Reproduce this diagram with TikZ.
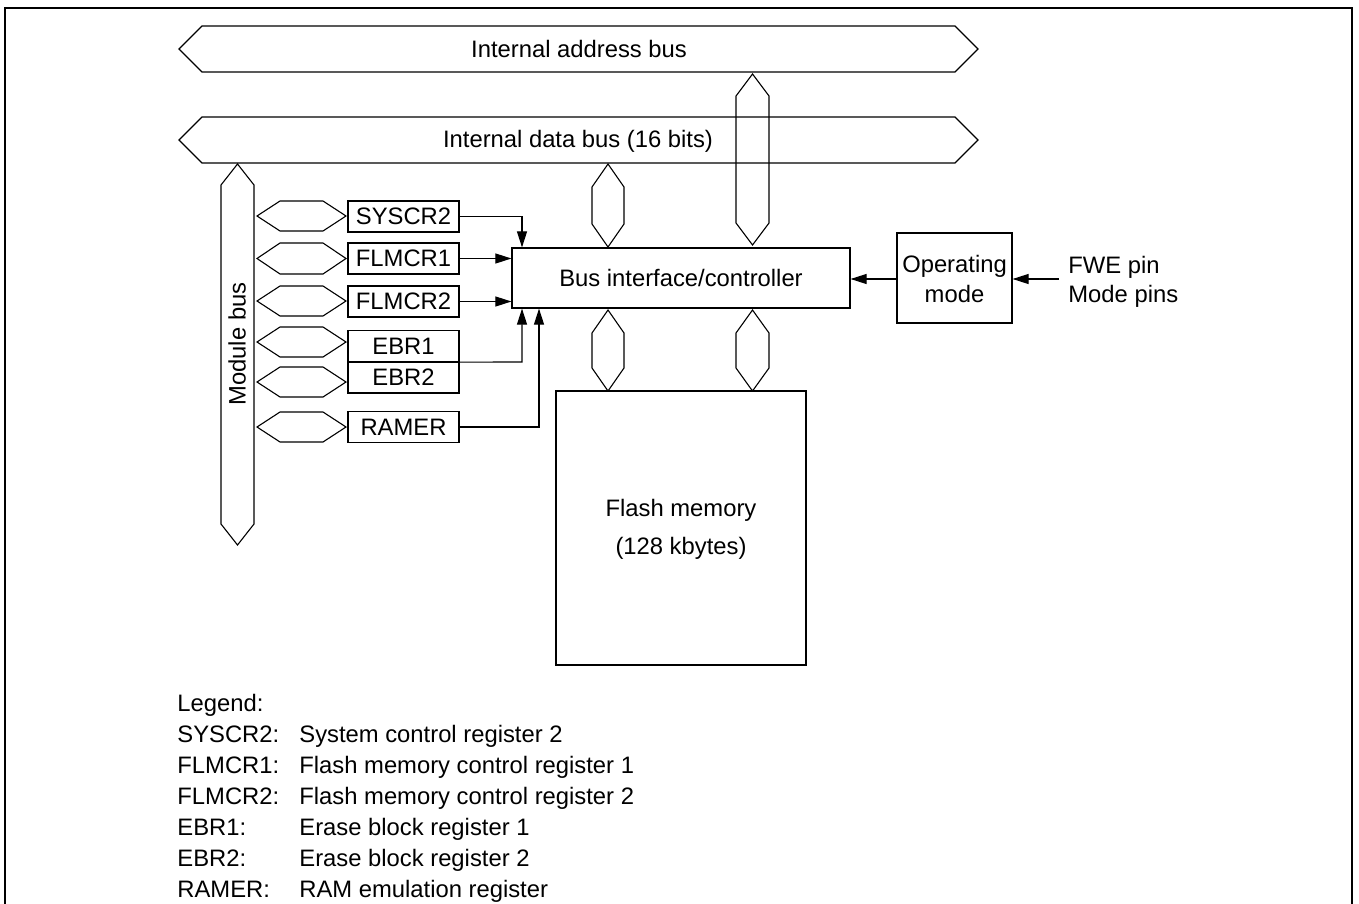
\documentclass[tikz,border=0pt]{standalone}
\usepackage{fontspec}
\setmainfont{Liberation Sans}
\usetikzlibrary{arrows.meta}
\newcommand{\hbusshape}[5]{% x1 x2 y1 y2 d
  \draw[buse] (#1,{(#3+#4)/2}) -- (#1+#5,#3) -- (#2-#5,#3) -- (#2,{(#3+#4)/2}) -- (#2-#5,#4) -- (#1+#5,#4) -- cycle;}
\newcommand{\vbusshape}[5]{% y1 y2 x1 x2 d
  \draw[buse] ({(#3+#4)/2},#1) -- (#4,#1+#5) -- (#4,#2-#5) -- ({(#3+#4)/2},#2) -- (#3,#2-#5) -- (#3,#1+#5) -- cycle;}
\begin{document}
\begin{tikzpicture}[x=0.5pt,y=-0.5pt,
  font=\fontsize{11.9pt}{14pt}\selectfont,
  buse/.style={draw=black,line width=0.55pt,line join=miter},
  regbox/.style={draw=black,line width=0.6pt,minimum width=55.5pt,minimum height=15.5pt,inner sep=0pt},
  blockbox/.style={draw=black,line width=0.6pt,inner sep=0pt},
  lbl/.style={inner sep=0pt,anchor=base west},
  arr/.style={line width=0.55pt,-{Triangle[length=8pt,width=5pt]}},
  wire/.style={line width=0.55pt}]
\useasboundingbox (0,0) rectangle (1359,904);
% outer frame (open at bottom)
\draw[line width=1pt] (5,904) -- (5,8) -- (1352,8) -- (1352,904);
% big buses
\hbusshape{179}{978}{26}{72}{23}
\node[inner sep=0pt] (abus) at (579,49) {Internal address bus};
\hbusshape{179}{978}{117}{163}{23}
\node[inner sep=0pt] (dbus) at (578,141) {Internal data bus (16 bits)};
% vertical buses
\vbusshape{74}{245}{736}{769}{22}
\vbusshape{164}{247}{592}{624}{23}
\vbusshape{310}{391}{592}{624}{23}
\vbusshape{310}{391}{736}{769}{23}
\vbusshape{164}{545}{221}{254}{21}
\node[inner sep=0pt,rotate=90] (mbus) at (237,344) {Module bus};
% small link buses
\hbusshape{257}{346}{201}{231}{23}
\hbusshape{257}{346}{243}{274}{23}
\hbusshape{257}{346}{286}{316}{23}
\hbusshape{257}{346}{327}{357}{23}
\hbusshape{257}{346}{367}{397}{23}
\hbusshape{257}{346}{412}{442}{23}
% registers
\node[regbox] (syscr) at (403.5,216.5) {SYSCR2};
\node[regbox] (flm1) at (403.5,258.5) {FLMCR1};
\node[regbox] (flm2) at (403.5,301.5) {FLMCR2};
\node[regbox] (ebr1) at (403.5,346) {EBR1};
\node[regbox] (ebr2) at (403.5,377.5) {EBR2};
\node[regbox] (ramer) at (403.5,427) {RAMER};
% controller
\node[blockbox,minimum width=169pt,minimum height=30pt] (ctrl) at (681,278) {Bus interface/controller};
% flash memory
\node[blockbox,minimum width=125pt,minimum height=137pt] (flash) at (681,528) {};
\node[inner sep=0pt] (fl1) at (681,510) {Flash memory};
\node[inner sep=0pt] (fl2) at (681,548) {(128 kbytes)};
% operating mode
\node[blockbox,minimum width=57.5pt,minimum height=45pt] (op) at (954.5,278) {};
\node[lbl,anchor=base] (op1) at (954.5,272) {Operating};
\node[lbl,anchor=base] (op2) at (954.5,302) {mode};
\node[lbl] (fwe) at (1068,273) {FWE pin};
\node[lbl] (mpins) at (1068,302) {Mode pins};
\coordinate (pinsrc) at (1059,279);
% connectors
\coordinate (c1) at (522,216.5);
\draw[arr] (syscr.east) -- (c1) -- (c1 |- ctrl.north);
\draw[arr] (flm1.east) -- (flm1.east -| ctrl.west);
\draw[arr] (flm2.east) -- (flm2.east -| ctrl.west);
\coordinate (c2) at (522,362);
\draw[arr] (ebr1.south east) -- (c2) -- (c2 |- ctrl.south);
\coordinate (c3) at (539,427);
\draw[arr] (ramer.east) -- (c3) -- (c3 |- ctrl.south);
\draw[arr] (op.west |- pinsrc) -- (ctrl.east |- pinsrc);
\draw[arr] (pinsrc) -- (pinsrc -| op.east);
% legend
\node[lbl] (lg) at (177,711) {Legend:};
\node[lbl] (l1a) at (177,742) {SYSCR2:};  \node[lbl] (l1b) at (299,742) {System control register 2};
\node[lbl] (l2a) at (177,773) {FLMCR1:};  \node[lbl] (l2b) at (299,773) {Flash memory control register 1};
\node[lbl] (l3a) at (177,804) {FLMCR2:};  \node[lbl] (l3b) at (299,804) {Flash memory control register 2};
\node[lbl] (l4a) at (177,835) {EBR1:};    \node[lbl] (l4b) at (299,835) {Erase block register 1};
\node[lbl] (l5a) at (177,866) {EBR2:};    \node[lbl] (l5b) at (299,866) {Erase block register 2};
\node[lbl] (l6a) at (177,897) {RAMER:};   \node[lbl] (l6b) at (299,897) {RAM emulation register};
\end{tikzpicture}
\end{document}
